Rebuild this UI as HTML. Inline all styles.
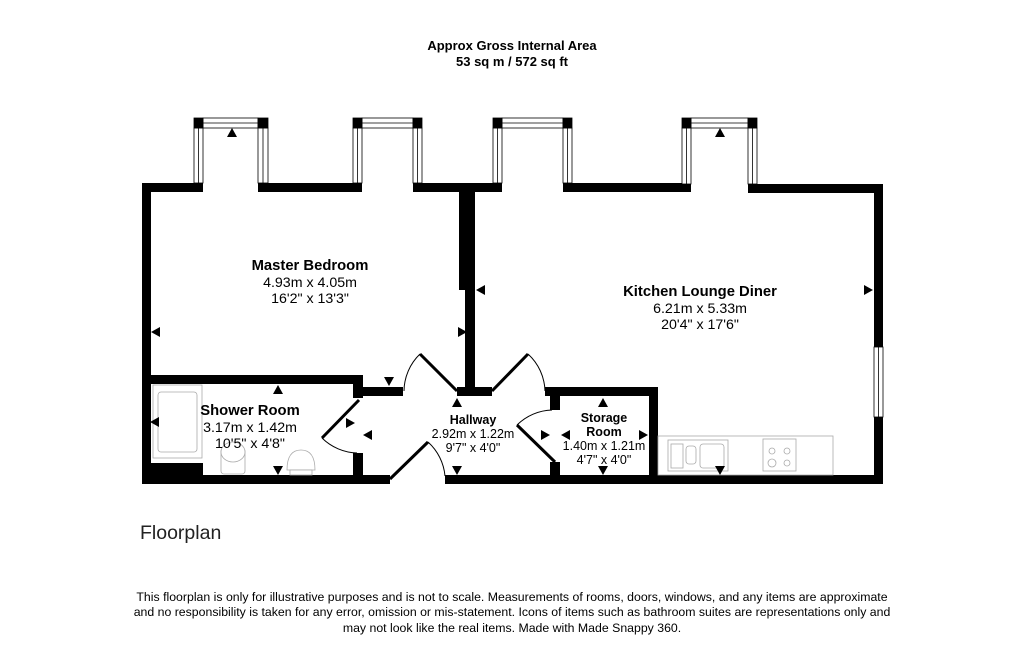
<!DOCTYPE html>
<html><head><meta charset="utf-8"><style>
html,body{margin:0;padding:0;background:#fff;}
body{width:1024px;height:654px;overflow:hidden;position:relative;font-family:"Liberation Sans",Arial,sans-serif;}
svg{position:absolute;left:0;top:0;}
</style></head><body>
<svg width="1024" height="654" viewBox="0 0 1024 654" xmlns="http://www.w3.org/2000/svg" font-family="Liberation Sans, Arial, sans-serif">
<g fill="#000">
 <rect x="142" y="183" width="9" height="301"/>
 <rect x="874" y="184" width="9" height="300"/>
 <rect x="142" y="475" width="248" height="9"/>
 <rect x="445" y="475" width="438" height="9"/>
 <rect x="142" y="183" width="61" height="9"/>
 <rect x="258" y="183" width="104" height="9"/>
 <rect x="413" y="183" width="89" height="9"/>
 <rect x="563" y="183" width="128" height="9"/>
 <rect x="748" y="184" width="135" height="9"/>
 <rect x="459" y="192" width="16" height="98"/>
 <rect x="465" y="290" width="10" height="106"/>
 <rect x="151" y="375" width="212" height="9"/>
 <rect x="353" y="375" width="10" height="23"/>
 <rect x="363" y="387" width="40" height="9"/>
 <rect x="457" y="387" width="35" height="9"/>
 <rect x="353" y="453" width="10" height="22"/>
 <rect x="545" y="387" width="113" height="9"/>
 <rect x="649" y="387" width="9" height="88"/>
 <rect x="550" y="387" width="10" height="23"/>
 <rect x="550" y="462" width="10" height="13"/>
 <rect x="151" y="463" width="52" height="12"/>
</g>
<rect x="874" y="347" width="9" height="70" fill="#fff" stroke="#000" stroke-width="0.8"/>
<line x1="878.5" y1="347" x2="878.5" y2="417" stroke="#000" stroke-width="0.8"/>
<g stroke="#000" stroke-width="0.8" fill="#fff">
 <g>
  <rect x="194" y="128" width="9" height="55"/><line x1="198.5" y1="128" x2="198.5" y2="183"/>
  <rect x="258" y="128" width="10" height="55"/><line x1="263" y1="128" x2="263" y2="183"/>
  <rect x="203" y="118" width="55" height="10"/><line x1="203" y1="123" x2="258" y2="123"/>
  <rect x="194" y="118" width="9" height="10" fill="#000"/><rect x="258" y="118" width="10" height="10" fill="#000"/>
 </g>
 <g>
  <rect x="353" y="128" width="9" height="55"/><line x1="357.5" y1="128" x2="357.5" y2="183"/>
  <rect x="413" y="128" width="9" height="55"/><line x1="417.5" y1="128" x2="417.5" y2="183"/>
  <rect x="362" y="118" width="51" height="10"/><line x1="362" y1="123" x2="413" y2="123"/>
  <rect x="353" y="118" width="9" height="10" fill="#000"/><rect x="413" y="118" width="9" height="10" fill="#000"/>
 </g>
 <g>
  <rect x="493" y="128" width="9" height="55"/><line x1="497.5" y1="128" x2="497.5" y2="183"/>
  <rect x="563" y="128" width="9" height="55"/><line x1="567.5" y1="128" x2="567.5" y2="183"/>
  <rect x="502" y="118" width="61" height="10"/><line x1="502" y1="123" x2="563" y2="123"/>
  <rect x="493" y="118" width="9" height="10" fill="#000"/><rect x="563" y="118" width="9" height="10" fill="#000"/>
 </g>
 <g>
  <rect x="682" y="128" width="9" height="56"/><line x1="686.5" y1="128" x2="686.5" y2="184"/>
  <rect x="748" y="128" width="9" height="56"/><line x1="752.5" y1="128" x2="752.5" y2="184"/>
  <rect x="691" y="118" width="57" height="10"/><line x1="691" y1="123" x2="748" y2="123"/>
  <rect x="682" y="118" width="9" height="10" fill="#000"/><rect x="748" y="118" width="9" height="10" fill="#000"/>
 </g>
</g>
<g stroke="#000" fill="none">
 <line x1="457" y1="391" x2="420" y2="354" stroke-width="3"/>
 <path d="M420 354 A52 52 0 0 0 404 391" stroke-width="1"/>
 <line x1="492" y1="391" x2="528" y2="354" stroke-width="3"/>
 <path d="M528 354 A52 52 0 0 1 545 391" stroke-width="1"/>
 <line x1="359" y1="400" x2="322" y2="438" stroke-width="3"/>
 <path d="M322 438 A52 52 0 0 0 357 453" stroke-width="1"/>
 <line x1="390" y1="479" x2="428" y2="442" stroke-width="3"/>
 <path d="M428 442 A52 52 0 0 1 445 476" stroke-width="1"/>
 <line x1="555" y1="462" x2="517" y2="425" stroke-width="3"/>
 <path d="M517 425 A52 52 0 0 1 552 410" stroke-width="1"/>
</g>
<g stroke="#aaa" fill="#fff" stroke-width="0.8">
 <rect x="153" y="385" width="49" height="73"/>
 <rect x="158" y="392" width="39" height="60" rx="3"/>
 <rect x="221" y="448" width="24" height="26" rx="3"/>
 <ellipse cx="233" cy="452" rx="12" ry="10"/>
 <path d="M287 470 Q287 450 301 450 Q315 450 315 470 Z"/>
 <rect x="290" y="470" width="22" height="5"/>
 <rect x="658" y="436" width="175" height="39" fill="none"/>
 <rect x="668" y="440" width="60" height="31"/>
 <rect x="671" y="444" width="12" height="24"/>
 <rect x="686" y="446" width="10" height="18" rx="3"/>
 <rect x="700" y="444" width="24" height="24" rx="3"/>
 <rect x="763" y="439" width="33" height="32"/>
 <circle cx="772" cy="451" r="3"/><circle cx="787" cy="451" r="3"/>
 <circle cx="772" cy="463" r="4"/><circle cx="787" cy="463" r="3"/>
</g>
<g fill="#000">
 <path d="M227 137 L232 128 L237 137Z"/>
 <path d="M715 137 L720 128 L725 137Z"/>
 <path d="M160 327 L151 332 L160 337Z"/>
 <path d="M458 327 L467 332 L458 337Z"/>
 <path d="M485 285 L476 290 L485 295Z"/>
 <path d="M864 285 L873 290 L864 295Z"/>
 <path d="M384 377 L389 386 L394 377Z"/>
 <path d="M452 407 L457 398 L462 407Z"/>
 <path d="M273 394 L278 385 L283 394Z"/>
 <path d="M159 417 L150 422 L159 427Z"/>
 <path d="M273 466 L278 475 L283 466Z"/>
 <path d="M346 418 L355 423 L346 428Z"/>
 <path d="M372 430 L363 435 L372 440Z"/>
 <path d="M452 466 L457 475 L462 466Z"/>
 <path d="M541 430 L550 435 L541 440Z"/>
 <path d="M570 430 L561 435 L570 440Z"/>
 <path d="M639 430 L648 435 L639 440Z"/>
 <path d="M598 407 L603 398 L608 407Z"/>
 <path d="M598 466 L603 475 L608 466Z"/>
 <path d="M715 466 L720 475 L725 466Z"/>
</g>
<g text-anchor="middle" fill="#000">
 <text x="512" y="50" font-size="13" font-weight="bold">Approx Gross Internal Area</text>
 <text x="512" y="66" font-size="13" font-weight="bold">53 sq m / 572 sq ft</text>
 <text x="310" y="270" font-size="14.8" font-weight="bold">Master Bedroom</text>
 <text x="310" y="287" font-size="14.2">4.93m x 4.05m</text>
 <text x="310" y="303" font-size="14.2">16'2" x 13'3"</text>
 <text x="700" y="296" font-size="14.8" font-weight="bold">Kitchen Lounge Diner</text>
 <text x="700" y="313" font-size="14.2">6.21m x 5.33m</text>
 <text x="700" y="329" font-size="14.2">20'4" x 17'6"</text>
 <text x="250" y="415" font-size="14.8" font-weight="bold">Shower Room</text>
 <text x="250" y="432" font-size="14.2">3.17m x 1.42m</text>
 <text x="250" y="448" font-size="14.2">10'5" x 4'8"</text>
 <text x="473" y="424" font-size="12.5" font-weight="bold">Hallway</text>
 <text x="473" y="438" font-size="12.5">2.92m x 1.22m</text>
 <text x="473" y="452" font-size="12.5">9'7" x 4'0"</text>
 <text x="604" y="422" font-size="12.5" font-weight="bold">Storage</text>
 <text x="604" y="436" font-size="12.5" font-weight="bold">Room</text>
 <text x="604" y="450" font-size="12.5">1.40m x 1.21m</text>
 <text x="604" y="464" font-size="12.5">4'7" x 4'0"</text>
 <text x="512" y="601" font-size="12.3">This floorplan is only for illustrative purposes and is not to scale. Measurements of rooms, doors, windows, and any items are approximate</text>
 <text x="512" y="616" font-size="12.3">and no responsibility is taken for any error, omission or mis-statement. Icons of items such as bathroom suites are representations only and</text>
 <text x="512" y="632" font-size="12.3">may not look like the real items. Made with Made Snappy 360.</text>
</g>
<text x="140" y="539" font-size="19.5" fill="#222">Floorplan</text>
</svg>
</body></html>
